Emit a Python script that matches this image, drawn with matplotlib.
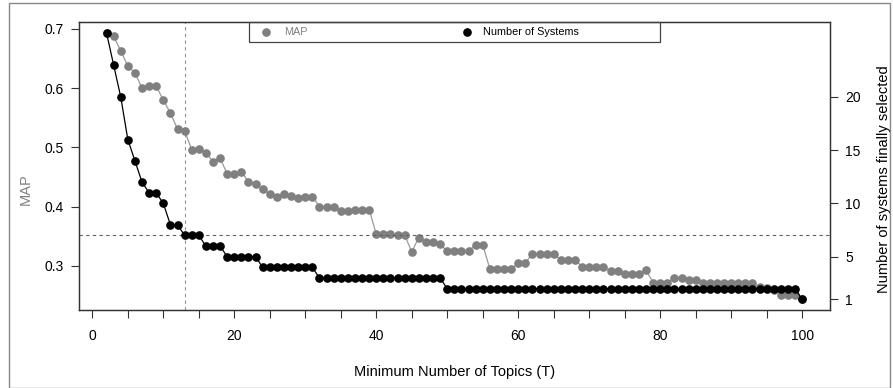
import matplotlib
matplotlib.use("Agg")
import matplotlib.pyplot as plt
from matplotlib.patches import Rectangle
from matplotlib.lines import Line2D

plt.rcParams['font.family'] = ['Liberation Sans', 'DejaVu Sans']

# ---- data ----
topics = list(range(2, 101))
map_values = [
    0.693, 0.6875, 0.663, 0.637, 0.626, 0.600, 0.603, 0.603, 0.580, 0.558,   # 2-11
    0.531, 0.528, 0.496, 0.4975, 0.491, 0.476, 0.482, 0.455, 0.455, 0.459,  # 12-21
    0.442, 0.438, 0.430, 0.421, 0.417, 0.421, 0.418, 0.414, 0.417, 0.417,   # 22-31
    0.400, 0.400, 0.400, 0.393, 0.393, 0.395, 0.395, 0.395, 0.3536, 0.3536, # 32-41
    0.3536, 0.352, 0.352, 0.324, 0.348, 0.341, 0.340, 0.3365, 0.325, 0.325, # 42-51
    0.325, 0.325, 0.336, 0.336, 0.295, 0.295, 0.295, 0.295, 0.305, 0.305,   # 52-61
    0.321, 0.321, 0.321, 0.321, 0.3096, 0.3096, 0.3096, 0.299, 0.299, 0.299,# 62-71
    0.299, 0.291, 0.291, 0.286, 0.286, 0.286, 0.293, 0.272, 0.272, 0.272,   # 72-81
    0.280, 0.280, 0.277, 0.277, 0.271, 0.271, 0.271, 0.271, 0.271, 0.271,   # 82-91
    0.271, 0.271, 0.264, 0.262, 0.260, 0.251, 0.251, 0.251, 0.2437,         # 92-100
]
n_systems = [
    26, 23, 20, 16, 14, 12, 11, 11, 10, 8,   # 2-11
    8, 7, 7, 7, 6, 6, 6, 5, 5, 5,            # 12-21
    5, 5, 4, 4, 4, 4, 4, 4, 4, 4,            # 22-31
    3, 3, 3, 3, 3, 3, 3, 3, 3, 3,            # 32-41
    3, 3, 3, 3, 3, 3, 3, 3, 2, 2,            # 42-51
    2, 2, 2, 2, 2, 2, 2, 2, 2, 2,            # 52-61
    2, 2, 2, 2, 2, 2, 2, 2, 2, 2,            # 62-71
    2, 2, 2, 2, 2, 2, 2, 2, 2, 2,            # 72-81
    2, 2, 2, 2, 2, 2, 2, 2, 2, 2,            # 82-91
    2, 2, 2, 2, 2, 2, 2, 2, 1,               # 92-100
]
x_ticks = list(range(0, 101, 5))
x_tick_labels = [str(t) if t % 20 == 0 else "" for t in x_ticks]
map_ticks = [0.3, 0.4, 0.5, 0.6, 0.7]
sys_ticks = [1, 5, 10, 15, 20]
threshold_topics = 13
threshold_systems = 7

W, H = 893, 388
fig = plt.figure(figsize=(W / 100, H / 100), dpi=100)
L, R, T, B = 78.7, 830, 22.3, 310
ax = fig.add_axes([L / W, 1 - B / H, (R - L) / W, (B - T) / H])

def rlim(vals):
    lo, hi = min(vals), max(vals)
    r = hi - lo
    return lo - 0.04 * r, hi + 0.04 * r

GRAY = "#808080"
ax.plot(topics, map_values, color="#9a9a9a", lw=0.9, marker="o", ms=5.2,
        mfc=GRAY, mec=GRAY, zorder=2)
ax.set_xlim(*rlim(topics))
ax.set_ylim(*rlim(map_values))
ax.set_xticks(x_ticks)
ax.set_xticklabels(x_tick_labels)
ax.set_yticks(map_ticks)
ax.set_yticklabels([f"{v:.1f}" for v in map_ticks])
ax.axvline(threshold_topics, color="#909090", lw=0.8, ls=(0, (3, 3)), zorder=1)

ax2 = ax.twinx()
ax2.plot(topics, n_systems, color="black", lw=0.9, marker="o", ms=5.2,
         mfc="black", mec="black", zorder=3)
ax2.set_ylim(*rlim(n_systems))
ax2.set_yticks(sys_ticks)
ax2.axhline(threshold_systems, color="#606060", lw=0.8, ls=(0, (3, 3)), zorder=1)

for a in (ax, ax2):
    for s in a.spines.values():
        s.set_color("#333333")
        s.set_linewidth(0.9)
    a.tick_params(direction="out", length=6, width=0.8, color="#333333",
                  labelsize=10, pad=5)
ax.tick_params(axis="x", pad=8)

ax.set_xlabel("Minimum Number of Topics (T)", fontsize=10.5)
ax.xaxis.set_label_coords(0.5, -0.192)
ax.set_ylabel("MAP", fontsize=10.5, color=GRAY)
ax.yaxis.set_label_coords(-0.061, 0.42)
ax2.set_ylabel("Number of systems finally selected", fontsize=10.5)
ax2.yaxis.set_label_coords(1.062, 0.455)

# legend box
lx0 = (249 - L) / (R - L)
lx1 = (660 - L) / (R - L)
ly0 = 1 - (41.7 - T) / (B - T)
ax2.add_patch(Rectangle((lx0, ly0), lx1 - lx0, 1 - ly0, transform=ax2.transAxes,
                        fill=False, edgecolor="#444444", lw=0.9, zorder=5,
                        clip_on=False))
ly = 1 - (32.3 - T) / (B - T)
for mx, tx, col, lab in [(266, 284, GRAY, "MAP"),
                         (467, 483, "black", "Number of Systems")]:
    ax2.add_line(Line2D([(mx - L) / (R - L)], [ly], marker="o", ms=5.2,
                        color=col, transform=ax2.transAxes, zorder=6))
    ax2.text((tx - L) / (R - L), ly, lab, transform=ax2.transAxes,
             fontsize=7.8, va="center", ha="left",
             color=(GRAY if col == GRAY else "black"), zorder=6)

# outer frame
fig.patches.append(Rectangle((9 / W, 0.5 / H), (890 - 9) / W, (385 - 0.5) / H,
                             transform=fig.transFigure, fill=False,
                             edgecolor="#888888", lw=1.0))

fig.savefig("out.png", dpi=100)
